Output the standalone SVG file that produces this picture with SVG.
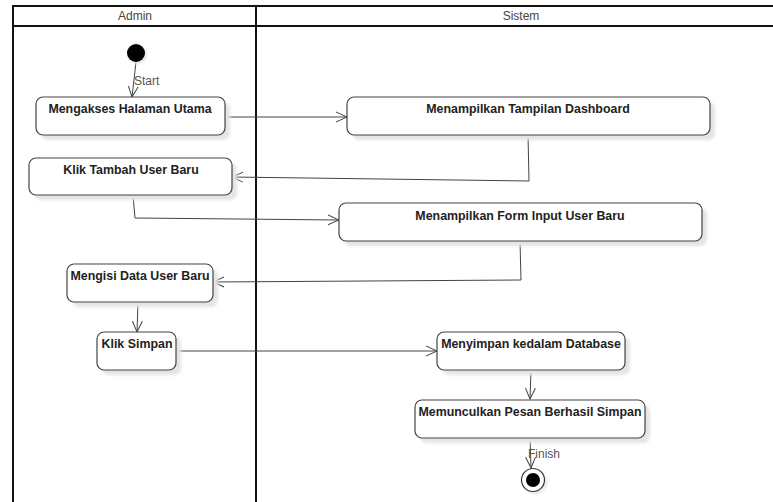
<svg xmlns="http://www.w3.org/2000/svg" width="773" height="502" viewBox="0 0 773 502">
  <style>
    .lane { fill: none; stroke: #111; stroke-width: 2; }
    .lane-title { font-family: "Liberation Sans", Arial, sans-serif; font-size: 12px; fill: #444; text-anchor: middle; }
    .act { fill: #fff; stroke: #444; stroke-width: 1.2; }
    .shadow { fill: #e4e4e4; filter: url(#soft); }
    .act-label { font-family: "Liberation Sans", Arial, sans-serif; font-size: 12.4px; font-weight: bold; fill: #222; text-anchor: middle; }
    .flow { fill: none; stroke: #444; stroke-width: 1; marker-end: url(#open); }
    .flow-label { font-family: "Liberation Sans", Arial, sans-serif; font-size: 12px; fill: #555; }
  </style>
  <defs>
    <filter id="soft" x="-10%" y="-20%" width="120%" height="140%">
      <feGaussianBlur stdDeviation="1.5"/>
    </filter>
    <marker id="open" viewBox="0 0 12 12" refX="11" refY="6" markerWidth="12" markerHeight="12" markerUnits="userSpaceOnUse" orient="auto">
      <path d="M0,1 L11,6 L0,11" fill="none" stroke="#444" stroke-width="1"/>
    </marker>
  </defs>

  <rect width="773" height="502" fill="#fff"/>

  <!-- swimlanes -->
  <g id="lanes">
    <line class="lane" x1="13" y1="6" x2="773" y2="6"/>
    <line class="lane" x1="13" y1="26" x2="773" y2="26"/>
    <line class="lane" x1="13" y1="5" x2="13" y2="502"/>
    <line class="lane" x1="256" y1="5" x2="256" y2="502"/>
    <text class="lane-title" x="135" y="20">Admin</text>
    <text class="lane-title" x="521" y="20">Sistem</text>
  </g>

  <!-- connectors -->
  <g id="connectors">
    <path class="flow" d="M136,62 L132,97"/>
    <text class="flow-label" x="134" y="85">Start</text>
    <path class="flow" d="M225,117 L347,117"/>
    <path class="flow" d="M528,135 L529,181 L232,177"/>
    <path class="flow" d="M133,195 L135,218 L339,220"/>
    <path class="flow" d="M520,241 L521,280 L213,282"/>
    <path class="flow" d="M138,302 L137,332"/>
    <path class="flow" d="M176,351 L437,351"/>
    <path class="flow" d="M531,370 L530,399"/>
    <path class="flow" d="M530,438 L531,468"/>
    <text class="flow-label" x="528" y="458">Finish</text>
  </g>

  <!-- start -->
  <g id="start">
    <circle cx="138" cy="55" r="9" fill="#e6e6e6" filter="url(#soft)"/>
    <circle cx="136" cy="53" r="9" fill="#000"/>
  </g>

  <g id="mengakses-halaman-utama">
    <rect class="shadow" x="41" y="102" width="189" height="38" rx="7"/>
    <rect class="act" x="36" y="97" width="189" height="38" rx="7"/>
    <text class="act-label" x="130" y="113">Mengakses Halaman Utama</text>
  </g>

  <g id="menampilkan-tampilan-dashboard">
    <rect class="shadow" x="352" y="102" width="363" height="38" rx="7"/>
    <rect class="act" x="347" y="97" width="363" height="38" rx="7"/>
    <text class="act-label" x="528" y="113">Menampilkan Tampilan Dashboard</text>
  </g>

  <g id="klik-tambah-user-baru">
    <rect class="shadow" x="34" y="163" width="203" height="37" rx="7"/>
    <rect class="act" x="29" y="158" width="203" height="37" rx="7"/>
    <text class="act-label" x="131" y="174">Klik Tambah User Baru</text>
  </g>

  <g id="menampilkan-form-input-user-baru">
    <rect class="shadow" x="344" y="208" width="363" height="38" rx="7"/>
    <rect class="act" x="339" y="203" width="363" height="38" rx="7"/>
    <text class="act-label" x="520" y="220">Menampilkan Form Input User Baru</text>
  </g>

  <g id="mengisi-data-user-baru">
    <rect class="shadow" x="72" y="269" width="146" height="38" rx="7"/>
    <rect class="act" x="67" y="264" width="146" height="38" rx="7"/>
    <text class="act-label" x="140" y="280">Mengisi Data User Baru</text>
  </g>

  <g id="klik-simpan">
    <rect class="shadow" x="102" y="337" width="79" height="38" rx="7"/>
    <rect class="act" x="97" y="332" width="79" height="38" rx="7"/>
    <text class="act-label" x="137" y="348">Klik Simpan</text>
  </g>

  <g id="menyimpan-kedalam-database">
    <rect class="shadow" x="442" y="337" width="188" height="38" rx="7"/>
    <rect class="act" x="437" y="332" width="188" height="38" rx="7"/>
    <text class="act-label" x="531" y="348">Menyimpan kedalam Database</text>
  </g>

  <g id="memunculkan-pesan-berhasil-simpan">
    <rect class="shadow" x="420" y="405" width="230" height="38" rx="7"/>
    <rect class="act" x="415" y="400" width="230" height="38" rx="7"/>
    <text class="act-label" x="530" y="416">Memunculkan Pesan Berhasil Simpan</text>
  </g>

  <!-- finish -->
  <g id="finish">
    <circle cx="535" cy="482" r="12" fill="#e6e6e6" filter="url(#soft)"/>
    <circle cx="533" cy="480" r="11.5" fill="#fff" stroke="#333" stroke-width="1.2"/>
    <circle cx="533" cy="480" r="7" fill="#000"/>
  </g>
</svg>
